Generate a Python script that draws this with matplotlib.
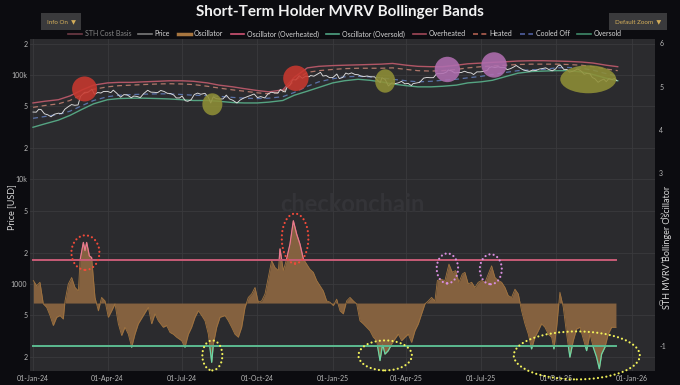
import numpy as np
import pandas as pd
import matplotlib
matplotlib.use("Agg")
import matplotlib.pyplot as plt
import matplotlib.dates as mdates
import matplotlib.transforms as mtransforms
from matplotlib.patches import Ellipse, Rectangle
from matplotlib.lines import Line2D

plt.rcParams['font.family'] = ['Lato', 'DejaVu Sans']

# ---------------- data ----------------
price_dates = ['2024-01-01','2024-01-05','2024-01-08','2024-01-11','2024-01-15','2024-01-19','2024-01-23','2024-01-27',
               '2024-02-01','2024-02-05','2024-02-09','2024-02-13','2024-02-17','2024-02-21','2024-02-25','2024-02-28',
               '2024-03-04','2024-03-08','2024-03-13','2024-03-16','2024-03-20','2024-03-24','2024-03-27',
               '2024-04-01','2024-04-05','2024-04-08','2024-04-12','2024-04-17','2024-04-21','2024-04-25','2024-04-30',
               '2024-05-03','2024-05-07','2024-05-11','2024-05-15','2024-05-20','2024-05-24','2024-05-28',
               '2024-06-01','2024-06-05','2024-06-09','2024-06-13','2024-06-17','2024-06-21','2024-06-24','2024-06-28',
               '2024-07-01','2024-07-05','2024-07-08','2024-07-12','2024-07-16','2024-07-20','2024-07-24','2024-07-29',
               '2024-08-02','2024-08-05','2024-08-08','2024-08-12','2024-08-16','2024-08-20','2024-08-24','2024-08-28',
               '2024-09-01','2024-09-06','2024-09-10','2024-09-14','2024-09-18','2024-09-22','2024-09-27',
               '2024-10-01','2024-10-05','2024-10-10','2024-10-14','2024-10-18','2024-10-22','2024-10-26','2024-10-29',
               '2024-11-02','2024-11-04','2024-11-06','2024-11-10','2024-11-13','2024-11-17','2024-11-21','2024-11-25','2024-11-29',
               '2024-12-03','2024-12-05','2024-12-09','2024-12-13','2024-12-17','2024-12-20','2024-12-24','2024-12-28',
               '2025-01-01','2025-01-06','2025-01-09','2025-01-13','2025-01-17','2025-01-20','2025-01-24','2025-01-28',
               '2025-02-01','2025-02-04','2025-02-08','2025-02-12','2025-02-16','2025-02-21','2025-02-25','2025-02-28',
               '2025-03-02','2025-03-06','2025-03-10','2025-03-14','2025-03-18','2025-03-22','2025-03-26','2025-03-30',
               '2025-04-03','2025-04-07','2025-04-09','2025-04-13','2025-04-17','2025-04-22','2025-04-26','2025-04-30',
               '2025-05-04','2025-05-08','2025-05-12','2025-05-16','2025-05-20','2025-05-22','2025-05-26','2025-05-30',
               '2025-06-03','2025-06-07','2025-06-11','2025-06-15','2025-06-19','2025-06-22','2025-06-26','2025-06-30',
               '2025-07-04','2025-07-09','2025-07-11','2025-07-14','2025-07-18','2025-07-22','2025-07-26','2025-07-30',
               '2025-08-02','2025-08-06','2025-08-10','2025-08-13','2025-08-17','2025-08-21','2025-08-25','2025-08-29',
               '2025-09-02','2025-09-06','2025-09-10','2025-09-14','2025-09-18','2025-09-22','2025-09-26','2025-09-30',
               '2025-10-03','2025-10-06','2025-10-10','2025-10-14','2025-10-17','2025-10-21','2025-10-24','2025-10-27','2025-10-31',
               '2025-11-04','2025-11-07','2025-11-11','2025-11-14','2025-11-17','2025-11-21','2025-11-24','2025-11-28',
               '2025-12-01','2025-12-04','2025-12-08','2025-12-11','2025-12-14']
price_k = [44.2,44.1,47.0,46.6,42.5,41.6,39.8,42.1,
           43.1,42.6,47.1,49.7,52.1,51.3,51.7,62.4,
           68.3,68.2,73.1,65.3,67.9,67.2,69.5,
           69.7,67.8,71.6,67.2,61.3,64.9,64.5,60.6,
           62.9,62.3,60.8,66.2,71.4,68.5,68.3,
           67.7,71.1,69.6,66.8,66.5,64.1,60.3,60.3,
           62.9,56.7,56.0,57.9,65.1,67.1,65.4,66.8,
           61.4,54.0,61.7,59.3,58.9,59.0,64.2,59.0,
           57.3,53.9,57.6,60.0,61.7,63.6,65.8,
           60.8,62.1,60.3,66.0,68.4,67.4,67.0,72.7,
           69.5,68.8,75.9,80.5,90.0,89.8,98.3,93.0,97.5,
           96.0,98.8,97.4,101.5,106.0,97.7,98.7,94.3,
           94.4,102.2,92.5,94.5,104.4,102.0,104.8,101.3,
           100.6,98.0,96.5,97.8,96.1,96.1,88.7,84.4,
           94.2,90.6,78.5,84.0,82.7,84.0,86.9,82.3,
           83.1,79.2,82.6,83.7,84.9,93.4,94.7,94.2,
           94.3,103.2,102.8,103.5,106.8,111.7,109.4,104.6,
           105.4,105.6,108.6,105.5,104.6,101.0,107.1,107.1,
           108.0,111.3,117.5,119.9,117.9,119.9,117.6,117.8,
           112.5,114.9,119.3,123.3,117.5,112.5,110.1,108.4,
           111.2,110.2,113.9,115.3,117.1,112.7,109.6,114.0,
           122.3,124.7,113.2,113.0,106.5,108.5,111.0,114.1,109.6,
           101.5,103.3,103.0,94.5,92.2,85.1,88.3,91.3,
           86.3,92.1,90.6,92.5,88.2]

band_dates = pd.date_range('2024-01-01', '2025-12-15', freq='SMS')
overheated_k = [54,56,58,63,72,80,84,85,85,86,87,88,88,87,84,80,77,74,71,69,72,95,117,121,
                123,124,125,126,127,129,124,121,120,120,124,128,130,132,134,136,137,137,136,135,133,130,124,120]
heated_k = [49,51,53,57,65,73,77,79,80,81,82,82.5,82,81,78,75,72,70,67.5,66,69,88,106,110,
            113,115,116,116,116,117,113,110,109,110,113,117,120,122,124,126,127,127,127,126,124,120,114,110]
cooled_k = [38.5,40,42,45,51,57,62,64,65,65.5,66,66,65,64,63.5,62.5,61,60,59.5,60,62,68,78,86,
            92,96,97,96,94,91,88,86,87,89,91,94,97,101,106,110,112,113,117,118,116,111,103,97]
oversold_k = [31.6,34,37,41,47,53,58,59.5,60,60,59.5,59,58,57,57,56,54.5,54,54,55,57,64,70,76,
              84,88,91,89,86,82,79,77,77,78,80,84,86,89,97,104,108,109,110,110,107,101,93,88]

osc_days = [0.4,4.5,8.5,12.6,16.7,20.8,24.8,28.9,33.0,37.0,39.1,43.1,47.2,51.3,55.4,57.4,61.5,63.5,65.5,68.8,
            71.6,75.7,79.8,83.8,87.9,92.0,96.1,100.1,104.2,108.3,112.3,116.4,120.5,124.5,128.6,134.7,140.8,144.9,149.0,153.0,
            159.1,163.2,167.3,171.3,175.4,181.5,185.6,189.7,193.7,197.8,201.9,206.0,210.0,214.1,218.2,220.2,224.3,228.3,234.4,238.5,
            242.6,246.6,250.7,254.8,258.9,262.9,267.0,271.1,275.1,279.2,283.3,287.3,291.4,295.5,299.6,301.6,305.7,309.7,313.8,317.9,
            322.0,326.0,330.1,334.2,338.2,342.3,346.4,350.4,354.5,358.6,362.6,366.7,370.8,374.9,378.9,383.0,387.1,
            391.1,395.2,399.2,403.3,407.4,411.4,415.5,419.6,423.7,426.9,429.8,433.8,437.9,442.0,446.0,450.1,454.2,458.2,462.3,466.4,
            470.5,474.5,478.6,482.7,486.7,490.8,493.7,497.7,503.0,507.9,512.0,516.0,520.1,524.2,527.4,531.5,535.6,539.6,543.7,547.8,
            551.9,555.9,560.0,564.1,568.1,572.2,576.3,580.3,584.4,588.5,592.6,596.6,600.7,604.8,608.8,612.9,617.0,621.0,625.1,629.2,
            633.3,636.1,639.4,643.4,647.5,651.6,655.6,659.7,663.8,667.9,671.9,676.0,680.1,684.1,688.2,691.5,694.3,698.4,702.4,706.5,711.8]
osc_vals = [0.52,0.40,0.48,-0.02,-0.10,-0.29,-0.52,-0.33,-0.29,-0.37,0.05,0.44,0.59,0.36,0.28,0.98,1.40,1.21,1.40,1.09,
            1.05,0.13,-0.18,0.13,0.05,-0.33,-0.18,-0.02,-0.48,-0.75,-0.56,-0.72,-1.02,-0.72,-0.48,-0.29,-0.10,-0.48,-0.25,-0.41,
            -0.56,-0.52,-0.68,-0.72,-0.79,-0.87,-1.02,-0.72,-0.56,-0.33,-0.18,-0.29,-0.41,-0.72,-1.37,-0.95,-0.56,-0.33,-0.29,-0.41,
            -0.56,-0.72,-0.79,-0.56,-0.10,0.13,0.21,0.36,0.02,0.05,0.21,0.59,0.98,0.82,0.75,1.25,0.75,1.02,1.36,1.90,
            1.59,1.36,1.02,0.90,0.78,0.71,0.52,0.40,0.28,0.05,0.02,-0.06,0.09,-0.18,-0.25,0.05,0.13,
            0.05,-0.02,-0.41,-0.48,-0.56,-0.64,-0.79,-0.87,-1.33,-0.95,-1.18,-1.10,-0.95,-0.83,-0.72,-0.87,-0.79,-0.72,-0.91,-0.64,
            -0.48,-0.25,-0.02,0.05,0.13,0.05,0.52,0.55,0.52,0.90,0.71,0.75,0.48,0.67,0.71,0.44,0.48,0.36,0.48,0.52,
            0.48,0.67,0.86,0.59,0.52,0.48,0.36,0.17,0.13,0.32,0.21,-0.18,-0.48,-0.72,-1.06,-0.79,-0.64,-0.48,-0.56,-0.72,
            -0.79,-1.06,-0.56,0.25,-0.10,-0.72,-1.25,-0.87,-0.60,-0.56,-0.83,-1.10,-0.72,-1.02,-1.25,-1.52,-1.18,-1.02,-0.72,-0.56,-0.56]
osc_overheated_level = 1.0
osc_oversold_level = -1.0

x_ticks = pd.date_range('2024-01-01', '2026-01-01', freq='QS')
price_ticks = [200, 500, 1000, 2000, 5000, 10000, 20000, 50000, 100000, 200000]
price_tick_labels = ['2', '5', '1000', '2', '5', '10k', '2', '5', '100k', '2']
osc_ticks = [-1, 0, 1, 2, 3, 4, 5, 6]

# highlight annotations: (date, value, half-width px, half-height px, colour)
price_marks = [('2024-03-04', 73500, 12.5, 12.5, '#c8382e'),
               ('2024-11-17', 93000, 12.7, 12.7, '#c8382e'),
               ('2024-08-07', 52400, 10, 11, '#8f8f36'),
               ('2025-03-06', 87600, 10, 11.7, '#8f8f36'),
               ('2025-05-21', 113000, 12.7, 12.7, '#b06eb0'),
               ('2025-07-17', 124700, 12.7, 12.7, '#b06eb0'),
               ('2025-11-09', 91000, 28, 14, '#8f8f36')]
osc_marks = [('2024-03-05', 1.165, 14, 17.3, '#f04a3a'),
             ('2024-11-16', 1.49, 13.3, 25, '#f04a3a'),
             ('2024-08-07', -1.21, 10, 15, '#f2f25a'),
             ('2025-03-06', -1.21, 26.7, 15, '#f2f25a'),
             ('2025-05-21', 0.80, 10.7, 15, '#d88ede'),
             ('2025-07-13', 0.78, 11, 15, '#d88ede'),
             ('2025-10-26', -1.21, 63, 24, '#f2f25a')]

# ---------------- figure ----------------
W, H = 680, 385
fig = plt.figure(figsize=(W / 100, H / 100), dpi=100, facecolor='#0c0c10')
ax = fig.add_axes([30 / W, 1 - 371 / H, 625 / W, 332 / H])
ax.set_facecolor('#2b2b2e')
ax2 = ax.twinx()

pdates = pd.to_datetime(price_dates)
prices = np.array(price_k) * 1000
ax.plot(band_dates, np.array(overheated_k) * 1000, color='#b25666', lw=1.0, zorder=3)
ax.plot(band_dates, np.array(heated_k) * 1000, color='#b0766a', lw=0.9, ls=(0, (4, 3)), zorder=3)
ax.plot(band_dates, np.array(cooled_k) * 1000, color='#5a72a8', lw=0.9, ls=(0, (4, 3)), zorder=3)
ax.plot(band_dates, np.array(oversold_k) * 1000, color='#55a482', lw=1.0, zorder=3)
ax.plot(pdates, prices, color='#dedede', lw=0.65, zorder=4)

ax.set_yscale('log')
ax.set_yticks(price_ticks)
ax.set_yticklabels(price_tick_labels)
ax.yaxis.set_minor_locator(matplotlib.ticker.NullLocator())
ax.set_ylim(147, 221000)
ax.set_xticks(x_ticks)
ax.set_xticklabels([d.strftime('%d-%b-%y') for d in x_ticks])
ax.set_xlim(pd.Timestamp('2023-12-28 08:00'), pd.Timestamp('2026-01-29 12:00'))
ax.grid(True, color='#3a3a3d', lw=0.6)
ax.set_axisbelow(True)
ax.tick_params(axis='both', length=0, labelsize=5, labelcolor='#b8b8b8')
ax.tick_params(axis='x', pad=3)
ax.tick_params(axis='y', pad=2)

# oscillator
osc_x = pd.Timestamp('2024-01-01') + pd.to_timedelta(osc_days, unit='D')
osc_v = np.array(osc_vals)
ax2.fill_between(osc_x, 0, osc_v, color='#84613f', lw=0, zorder=2)
ax2.plot(osc_x, osc_v, color='#a1743f', lw=0.6, zorder=3)
x0n, x1n = mdates.date2num(osc_x[0]) - 30, mdates.date2num(osc_x[-1]) + 30
hi, = ax2.plot(osc_x, osc_v, color='#ea7890', lw=0.9, zorder=4)
hi.set_clip_path(Rectangle((x0n, osc_overheated_level), x1n - x0n, 20, transform=ax2.transData))
lo, = ax2.plot(osc_x, osc_v, color='#6ad6a6', lw=0.9, zorder=4)
lo.set_clip_path(Rectangle((x0n, osc_oversold_level - 20), x1n - x0n, 20, transform=ax2.transData))
ax2.plot([osc_x[0], osc_x[-1]], [osc_overheated_level] * 2, color='#c85c76', lw=1.4, zorder=5)
ax2.plot([osc_x[0], osc_x[-1]], [osc_oversold_level] * 2, color='#5cba90', lw=1.4, zorder=5)
ax2.set_ylim(-1.57, 6.1)
ax2.set_yticks(osc_ticks)
ax2.set_yticklabels([str(t) for t in osc_ticks])
ax2.tick_params(axis='y', length=0, labelsize=5, labelcolor='#b8b8b8', pad=3)
ax2.set_xlim(ax.get_xlim())

for a in (ax, ax2):
    for s in a.spines.values():
        s.set_visible(False)

# highlight ellipses
def add_mark(axis, date, val, rx, ry, **kw):
    xn = mdates.date2num(pd.Timestamp(date))
    tr = fig.dpi_scale_trans + mtransforms.ScaledTranslation(xn, val, axis.transData)
    e = Ellipse((0, 0), 2 * rx / 100, 2 * ry / 100, transform=tr, clip_on=False, **kw)
    fig.add_artist(e)

for d, v, rx, ry, c in price_marks:
    add_mark(ax, d, v, rx, ry, facecolor=c, edgecolor='none', alpha=0.88)
for d, v, rx, ry, c in osc_marks:
    add_mark(ax2, d, v, rx, ry, facecolor='none', edgecolor=c, lw=1.6,
             ls=(0, (0.01, 1.9)), capstyle='round')

# watermark
fig.text(352 / W, 1 - 205 / H, 'checkonchain', color='#343438', fontsize=17,
         fontweight='bold', ha='center', va='center', zorder=0.5)

# axis labels
fig.text(12 / W, 1 - 207 / H, 'Price [USD]', rotation=90, color='#d8d8d8',
         fontsize=6.5, ha='center', va='center')
fig.text(667 / W, 1 - 247 / H, 'STH MVRV Bollinger Oscillator', rotation=90,
         color='#d8d8d8', fontsize=6.5, ha='center', va='center')

# title
fig.text(340 / W, 1 - 12 / H, 'Short-Term Holder MVRV Bollinger Bands', color='#f2f2f2',
         fontsize=11, fontweight='bold', ha='center', va='center')

# buttons
for txt, xc in (('Info On  \u25BC', 61), ('Default Zoom  \u25BC', 638)):
    fig.text(xc / W, 1 - 21.5 / H, txt, color='#d4ae5a', fontsize=4.5, ha='center', va='center',
             bbox=dict(boxstyle='square,pad=0.9', facecolor='#3a3a3c', edgecolor='none'))

# legend
handles = [Line2D([], [], color='#6e3a46', lw=1.2),
           Line2D([], [], color='#7a7a7a', lw=1.2),
           Line2D([], [], color='#a8763f', lw=2.5),
           Line2D([], [], color='#d05474', lw=1.2),
           Line2D([], [], color='#4fa383', lw=1.2),
           Line2D([], [], color='#a04858', lw=1.2),
           Line2D([], [], color='#b06050', lw=1.2, ls=(0, (3, 2))),
           Line2D([], [], color='#5060a0', lw=1.2, ls=(0, (3, 2))),
           Line2D([], [], color='#3f8a6a', lw=1.2)]
labels = ['STH Cost Basis', 'Price', 'Oscillator', 'Oscillator (Overheated)', 'Oscillator (Oversold)',
          'Overheated', 'Heated', 'Cooled Off', 'Oversold']
lcolors = ['#858585'] + ['#d8d8d8'] * 8
fig.legend(handles, labels, loc='center', bbox_to_anchor=(345 / W, 1 - 34 / H), ncol=9,
           frameon=False, fontsize=5, handlelength=1.9, handletextpad=0.45, columnspacing=1.05,
           labelcolor=lcolors, borderpad=0, borderaxespad=0)

fig.savefig('out.png', dpi=100, facecolor=fig.get_facecolor())
